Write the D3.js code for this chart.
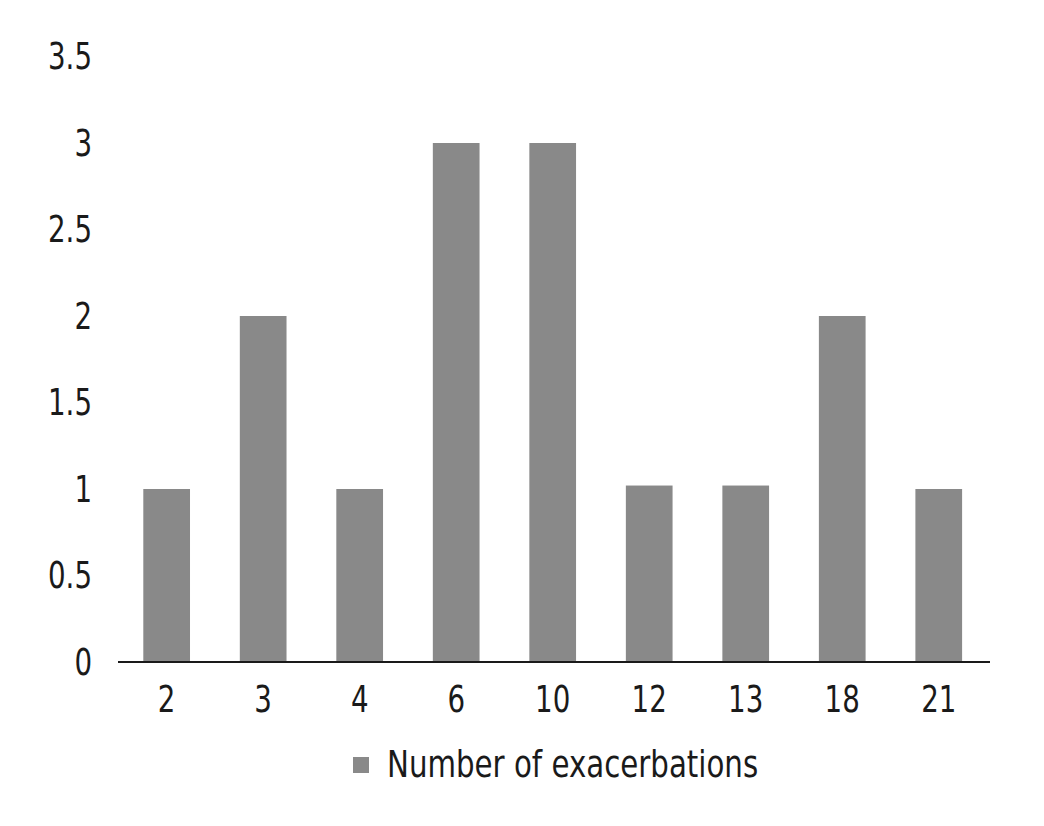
<!DOCTYPE html>
<html>
<head>
<meta charset="utf-8">
<script src="https://cdn.jsdelivr.net/npm/d3@7"></script>
<style>
  html, body { margin: 0; padding: 0; background: #fff; }
  svg { display: block; }
  text { font-family: "Liberation Sans Narrow", "DejaVu Sans Condensed", "Roboto", sans-serif; fill: #1a1a1a; }
</style>
</head>
<body>
<svg id="chart" width="1044" height="826"></svg>
<script>
const categories = ["2", "3", "4", "6", "10", "12", "13", "18", "21"];
const values = [1, 2, 1, 3, 3, 1.02, 1.02, 2, 1];
const yTicks = [0, 0.5, 1, 1.5, 2, 2.5, 3, 3.5];
const seriesName = "Number of exacerbations";

const svg = d3.select("#chart");
const x = d3.scaleBand().domain(categories).range([118.4, 987]).paddingInner(0.516).paddingOuter(0.258);
const y = d3.scaleLinear().domain([0, 3.5]).range([662, 56.5]);

function narrow(sel, f) {
  sel.each(function() {
    const len = this.getComputedTextLength();
    d3.select(this).attr("textLength", len * f).attr("lengthAdjust", "spacingAndGlyphs");
  });
}

svg.append("g").selectAll("rect").data(values).join("rect")
  .attr("x", (d, i) => x(categories[i]))
  .attr("width", x.bandwidth())
  .attr("y", d => y(d))
  .attr("height", d => y(0) - y(d))
  .attr("fill", "#898989");

// y axis (labels only)
const yAxis = d3.axisLeft(y).tickValues(yTicks).tickSize(0).tickPadding(0).tickFormat(d => String(d));
const gy = svg.append("g").attr("transform", "translate(92,0)").call(yAxis);
gy.select(".domain").remove();
gy.selectAll("text").style("font-size", "38px").attr("fill", "#1a1a1a").call(narrow, 0.81);

// x axis
const xAxis = d3.axisBottom(x).tickSize(0).tickPadding(0);
const gx = svg.append("g").attr("transform", "translate(0,662)").call(xAxis);
gx.select(".domain").attr("stroke", "#1a1a1a").attr("stroke-width", 2).attr("d", "M118,0H990");
gx.selectAll("text").style("font-size", "38px").attr("fill", "#1a1a1a").attr("dy", null).attr("y", 50).call(narrow, 0.81);

// legend
const lg = svg.append("g");
lg.append("rect").attr("x", 353).attr("y", 757).attr("width", 16).attr("height", 16).attr("fill", "#898989");
lg.append("text").attr("x", 387).attr("y", 777).style("font-size", "38px").text(seriesName).call(narrow, 370 / 432);
</script>
</body>
</html>
